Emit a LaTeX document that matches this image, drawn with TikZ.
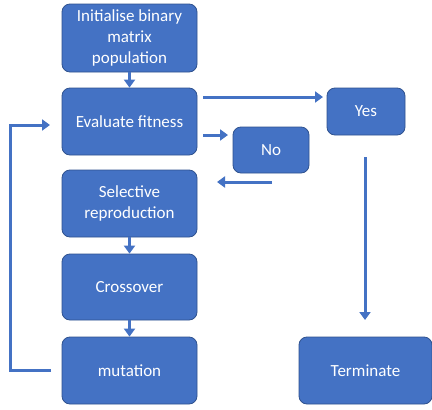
\documentclass[tikz,border=0pt]{standalone}
\usepackage{fontspec}
\setmainfont{Carlito}
\usetikzlibrary{arrows.meta}
\definecolor{boxblue}{HTML}{4472C4}
\definecolor{boxedge}{HTML}{2F528F}
\tikzset{
  stepbox/.style={draw=boxedge, line width=0.8pt, fill=boxblue, rounded corners=8pt,
    text=white, align=center, inner sep=0pt,
    font=\fontsize{17}{21}\selectfont},
  arr/.style={draw=boxblue, line width=3pt, -{Triangle[length=8pt,width=11pt]}},
  ln/.style={draw=boxblue, line width=3pt}
}
\begin{document}
\begin{tikzpicture}[x=1pt,y=-1pt]
\useasboundingbox (0,0) rectangle (432,410);
\fill[white] (0,0) rectangle (432,410);
\node[stepbox, minimum width=135pt, minimum height=68pt] (init) at (129.5,38) {Initialise binary\\matrix\\population};
\node[stepbox, minimum width=135pt, minimum height=67pt] (eval) at (129.5,121.5) {Evaluate fitness};
\node[stepbox, minimum width=135pt, minimum height=67pt] (sel) at (129.5,203.5) {Selective\\reproduction};
\node[stepbox, minimum width=135pt, minimum height=66pt] (cross) at (129.5,287) {Crossover};
\node[stepbox, minimum width=135pt, minimum height=67pt] (mut) at (129.5,370.5) {mutation};
\node[stepbox, minimum width=78pt, minimum height=47pt] (yes) at (366,111.5) {Yes};
\node[stepbox, minimum width=76pt, minimum height=46pt] (no) at (271,150) {No};
\node[stepbox, minimum width=133pt, minimum height=67pt] (term) at (365.5,370.5) {Terminate};

\coordinate (ey1) at (203,97);
\coordinate (ey2) at (323,97);
\coordinate (en1) at (203,135);
\coordinate (en2) at (228,135);
\coordinate (ns1) at (272,182);
\coordinate (ns2) at (217,182);
\coordinate (yt1) at (365,157);
\coordinate (yt2) at (365,320);
\coordinate (m1) at (51,370);
\coordinate (l1) at (10,370);
\coordinate (l2) at (10,125);
\coordinate (l3) at (50,125);

\draw[arr] (init) -- (eval);
\draw[arr] (sel) -- (cross);
\draw[arr] (cross) -- (mut);
\draw[arr] (ey1) -- (ey2);
\draw[arr] (en1) -- (en2);
\draw[arr] (ns1) -- (ns2);
\draw[arr] (yt1) -- (yt2);
\draw[arr] (m1) -- (l1) -- (l2) -- (l3);
\end{tikzpicture}
\end{document}
